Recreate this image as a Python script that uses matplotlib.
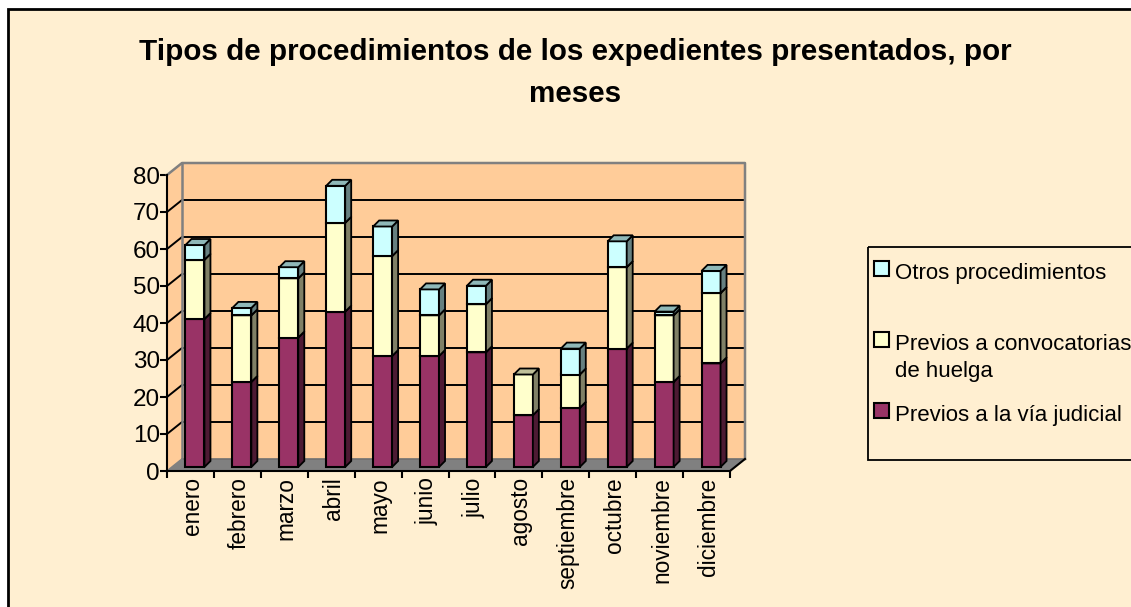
import numpy as np
import matplotlib
matplotlib.use("Agg")
import matplotlib.pyplot as plt
from matplotlib.patches import Polygon, Rectangle

meses = ['enero', 'febrero', 'marzo', 'abril', 'mayo', 'junio', 'julio',
         'agosto', 'septiembre', 'octubre', 'noviembre', 'diciembre']
via_judicial = [40, 23, 35, 42, 30, 30, 31, 14, 16, 32, 23, 28]
huelga = [16, 18, 16, 24, 27, 11, 13, 11, 9, 22, 18, 19]
otros = [4, 2, 3, 10, 8, 7, 5, 0, 7, 7, 1, 6]
series_names = ['Previos a la vía judicial', 'Previos a convocatorias\nde huelga', 'Otros procedimientos']
titulo = ['Tipos de procedimientos de los expedientes presentados, por', 'meses']

W, H = 1131, 607
BG = '#FFEFD1'
plt.rcParams['font.family'] = ['Liberation Sans', 'DejaVu Sans']

fig = plt.figure(figsize=(W / 100, H / 100), dpi=100, facecolor='white')

# marco exterior
bg = fig.add_axes([0, 0, 1, 1])
bg.set_xlim(0, W)
bg.set_ylim(H, 0)
bg.axis('off')
bg.add_patch(Rectangle((8, 9), 1400, 800, fc=BG, ec='black', lw=2))

# ejes: frente del grafico
x0, x1, y0, y1 = 167, 730, 471, 175
ax = fig.add_axes([x0 / W, 1 - y0 / H, (x1 - x0) / W, (y0 - y1) / H])
ax.set_xlim(0, 12)
ax.set_ylim(0, 80)
ax.patch.set_visible(False)
for s in ['top', 'right']:
    ax.spines[s].set_visible(False)
for s in ['left', 'bottom']:
    ax.spines[s].set_linewidth(1.5)
    ax.spines[s].set_zorder(20)

px = 12 / (x1 - x0)
py = 80 / (y0 - y1)
dx, dy = 15 * px, 12 * py   # profundidad 3D

wall = '#FFCC99'
ax.add_patch(Polygon([(0, 0), (dx, dy), (dx, 80 + dy), (0, 80)], fc=wall, ec='none', zorder=1, clip_on=False))
ax.add_patch(Rectangle((dx, dy), 12, 80, fc=wall, ec='none', zorder=1, clip_on=False))
ax.add_patch(Polygon([(0, 0), (12, 0), (12 + dx, dy), (dx, dy)], fc='#808080', ec='none', zorder=2, clip_on=False))

for v in range(10, 80, 10):
    ax.plot([0, dx, 12 + dx], [v, v + dy, v + dy], color='black', lw=1.4, zorder=3, clip_on=False)
ax.plot([0, dx, 12 + dx, 12 + dx], [80, 80 + dy, 80 + dy, dy], color='#808080', lw=1.8, zorder=3, clip_on=False)
ax.plot([dx, dx], [dy, 80 + dy], color='#808080', lw=1.8, zorder=3, clip_on=False)
ax.plot([dx, 12 + dx], [dy, dy], color='#707070', lw=1.2, zorder=3, clip_on=False)
ax.plot([0, dx], [0, dy], color='#808080', lw=1.2, zorder=3, clip_on=False)
ax.plot([12, 12 + dx], [0, dy], color='black', lw=1.5, zorder=3, clip_on=False)

# barras apiladas con cara lateral y superior
colores = ['#993366', '#FFFFCC', '#CCFFFF']
laterales = ['#4D1A33', '#808066', '#668080']
superiores = ['#73264D', '#BFBF99', '#8FB8B8']
series = [via_judicial, huelga, otros]
ancho = 19 * px
bx, by = 6 * px, 6 * py   # profundidad de la barra
sx, sy = 4.5 * px, 4 * py  # la barra esta a media profundidad

xs = np.arange(12) + 0.5 + sx
base = np.zeros(12)
for k, vals in enumerate(series):
    vals = np.array(vals, dtype=float)
    for i in range(12):
        if vals[i] == 0:
            continue
        z = 5 + i * 0.1
        l = xs[i] - ancho / 2
        r = xs[i] + ancho / 2
        b = base[i] + sy
        t = b + vals[i]
        ax.add_patch(Rectangle((l, b), ancho, vals[i], fc=colores[k], ec='black', lw=1.5, zorder=z, clip_on=False))
        ax.add_patch(Polygon([(r, b), (r + bx, b + by), (r + bx, t + by), (r, t)],
                             fc=laterales[k], ec='black', lw=1.3, zorder=z, clip_on=False))
        ax.add_patch(Polygon([(l, t), (r, t), (r + bx, t + by), (l + bx, t + by)],
                             fc=superiores[k], ec='black', lw=1.3, zorder=z, clip_on=False))
    base = base + vals

ax.set_yticks(range(0, 81, 10))
ax.set_xticks(range(0, 13))
ax.set_xticklabels([])
ax.tick_params(axis='y', length=5, width=1.5, labelsize=17.5, pad=0, direction='out')
ax.tick_params(axis='x', length=5, width=1.5)
for i, m in enumerate(meses):
    ax.annotate(m, (i + 0.5, 0), xytext=(1.5, -4.5), textcoords='offset points', rotation=90,
                ha='center', va='top', fontsize=16.3, annotation_clip=False)

bg.text(575, 52, titulo[0], ha='center', va='center', fontsize=21.3, fontweight='bold')
bg.text(575, 94, titulo[1], ha='center', va='center', fontsize=21.3, fontweight='bold')

# leyenda
bg.add_patch(Rectangle((868, 247), 400, 213, fc='none', ec='black', lw=1.3))
ley_y = [269, 340, 411]
orden = [2, 1, 0]
for yy, k in zip(ley_y, orden):
    bg.add_patch(Rectangle((874, yy - 8), 15, 15, fc=colores[k], ec='black', lw=1.5))
    linea = series_names[k].split('\n')
    bg.text(895, yy + 4, linea[0], fontsize=16, va='center')
    if len(linea) > 1:
        bg.text(895, yy + 31, linea[1], fontsize=16, va='center')

fig.savefig('out.png', dpi=100, facecolor='white')
